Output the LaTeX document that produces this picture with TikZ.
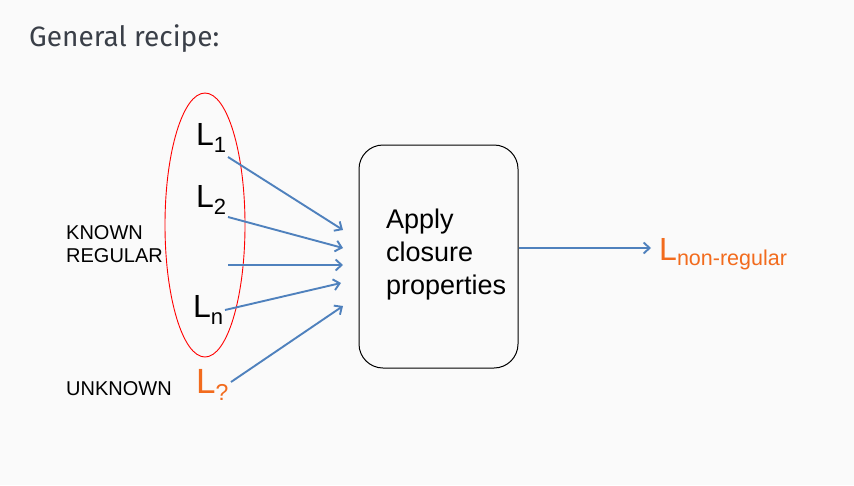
\documentclass[tikz,border=0pt]{standalone}
\usepackage{fontspec}
\setmainfont{Liberation Sans}
\newfontfamily\firafont{Fira Sans}
\usetikzlibrary{arrows.meta}
\definecolor{bgc}{HTML}{FAFAFA}
\definecolor{arrowblue}{HTML}{4F81BD}
\definecolor{lorange}{HTML}{F26B1D}
\definecolor{titlegray}{HTML}{3A3F48}
\newcommand{\fsz}[1]{\fontsize{#1}{#1}\selectfont}
\tikzset{
  flow/.style={draw=arrowblue, line width=1.9pt, -{Straight Barb[length=6pt,width=11pt,line width=1.9pt]}},
  lang/.style={anchor=base west, inner sep=0pt, font=\fsz{32}},
  lbl/.style={anchor=base west, inner sep=0pt, font=\fsz{20}},
  boxline/.style={anchor=base west, inner sep=0pt, font=\fsz{27}},
}
\begin{document}
\begin{tikzpicture}[x=1pt,y=-1pt]
\fill[bgc] (0,0) rectangle (854,485);
\useasboundingbox (0,0) rectangle (854,485);

\node[anchor=base west, inner sep=0pt, text=titlegray, font=\firafont\fsz{28}] (title) at (29,46) {General recipe:};

% ellipse
\draw[red, line width=0.9pt] (205,225) ellipse [x radius=40, y radius=132];

% languages
\node[lang] (l1) at (196,145) {L\raisebox{-7pt}{\fsz{22}1}};
\node[lang] (l2) at (196,207) {L\raisebox{-7pt}{\fsz{22}2}};
\node[lang] (ln) at (193,317) {L\raisebox{-7pt}{\fsz{22}n}};
\node[lang, text=lorange, font=\fsz{35}] (lq) at (196,393) {L\raisebox{-7pt}{\fsz{23}?}};

\node[lbl] (known) at (66,239) {KNOWN};
\node[lbl] (regular) at (66,262) {REGULAR};
\node[lbl] (unknown) at (66,395) {UNKNOWN};

% box
\node[draw=black, line width=1pt, rounded corners=24pt, minimum width=159pt, minimum height=223pt, inner sep=0pt] (box) at (438.5,256.5) {};
\node[boxline] (apply) at (386,228) {Apply};
\node[boxline] (closure) at (386,261) {closure};
\node[boxline] (props) at (386,294) {properties};

% arrow coordinates
\coordinate (s1) at (228,157);
\coordinate (e1) at (343,230);
\coordinate (s2) at (228,217);
\coordinate (e2) at (343,248);
\coordinate (s3) at (228,265);
\coordinate (e3) at (343,265);
\coordinate (s4) at (225,310);
\coordinate (e4) at (341,283);
\coordinate (s5) at (231,382);
\coordinate (e5) at (343,306);

\draw[flow] (s1) -- (e1);
\draw[flow] (s2) -- (e2);
\draw[flow] (s3) -- (e3);
\draw[flow] (s4) -- (e4);
\draw[flow] (s5) -- (e5);

% output
\node[anchor=base west, inner sep=0pt, text=lorange, font=\fsz{32}] (lout) at (659,260) {L\raisebox{-5pt}{\fsz{21.5}non-regular}};
\coordinate (oend) at (651,248);
\draw[flow] (box.east |- oend) -- (oend);
\end{tikzpicture}
\end{document}
